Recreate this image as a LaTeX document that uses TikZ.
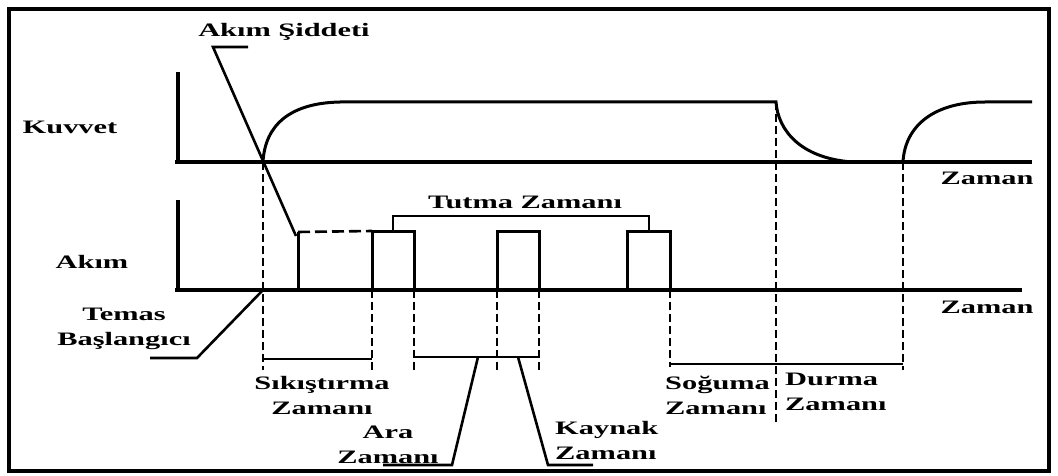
\documentclass[tikz,border=0pt]{standalone}
\usepackage{fontspec}
\setmainfont{Liberation Serif}[FakeStretch=1.6]
\begin{document}
\begin{tikzpicture}[x=1pt,y=-1pt,
  line join=miter,
  lbl/.style={font=\bfseries\fontsize{19}{25}\selectfont, inner sep=0pt},
  axis/.style={line width=3.2pt},
  sig/.style={line width=3pt},
  guide/.style={line width=2.8pt, dash pattern=on 8pt off 4pt},
  lead/.style={line width=2.6pt},
  span/.style={line width=2.8pt}]
\useasboundingbox (0,0) rectangle (1058,476);
\draw[line width=4pt] (9,9) rectangle (1049,471);

% axes
\coordinate (fy) at (178,72);
\coordinate (fo) at (178,162);
\coordinate (fs) at (175,162);
\coordinate (fe) at (1032,162);
\coordinate (cy) at (178,200);
\coordinate (co) at (178,290);
\coordinate (cs) at (175,290);
\coordinate (ce) at (1022,290);
\draw[axis] (fy) -- (fo);
\draw[axis] (fs) -- (fe);
\draw[axis] (cy) -- (co);
\draw[axis] (cs) -- (ce);

% force curve
\coordinate (f0) at (263,162);
\coordinate (f1) at (340,102);
\coordinate (f2) at (776,102);
\coordinate (f3) at (852,162);
\coordinate (f4) at (903,162);
\coordinate (f5) at (985,102);
\coordinate (f6) at (1032,102);
\draw[sig] (f0) .. controls (265,125) and (290,103) .. (f1) -- (f2)
  .. controls (778,130) and (800,158) .. (f3);
\draw[sig] (f4) .. controls (905,125) and (935,102) .. (f5) -- (f6);

% current pulses
\coordinate (s0) at (298,290);
\coordinate (s1) at (298,232);
\draw[sig] (s0) -- (s1);
\coordinate (p1a) at (372,290);
\coordinate (p1b) at (372,231);
\coordinate (p1c) at (414,231);
\coordinate (p1d) at (414,290);
\draw[sig] (p1a) -- (p1b) -- (p1c) -- (p1d);
\draw[line width=2.6pt, dash pattern=on 12pt off 5pt] (s1) -- (p1b);
\coordinate (p2a) at (497,290);
\coordinate (p2b) at (497,231);
\coordinate (p2c) at (539,231);
\coordinate (p2d) at (539,290);
\draw[sig] (p2a) -- (p2b) -- (p2c) -- (p2d);
\coordinate (p3a) at (627,290);
\coordinate (p3b) at (627,231);
\coordinate (p3c) at (670,231);
\coordinate (p3d) at (670,290);
\draw[sig] (p3a) -- (p3b) -- (p3c) -- (p3d);

% hold-time bracket
\coordinate (t0) at (393,231);
\coordinate (t1) at (393,216);
\coordinate (t2) at (649,216);
\coordinate (t3) at (649,231);
\draw[span] (t0) -- (t1) -- (t2) -- (t3);
\node[lbl] (tutma) at (525,202) {Tutma Zamanı};

% dashed time markers
\coordinate (g1) at (263,370);
\coordinate (g2) at (372,370);
\coordinate (g3) at (414,370);
\coordinate (g4) at (497,372);
\coordinate (g5) at (539,372);
\coordinate (g6) at (670,367);
\coordinate (g7) at (776,423);
\coordinate (g8) at (903,370);
\draw[guide] (f0) -- (g1);
\draw[guide] (p1a) -- (g2);
\draw[guide] (p1d) -- (g3);
\draw[guide] (p2a) -- (g4);
\draw[guide] (p2d) -- (g5);
\draw[guide] (p3d) -- (g6);
\draw[guide] (f2) -- (g7);
\draw[guide] (f4) -- (g8);

% interval spans
\coordinate (k1) at (263,359);
\coordinate (k2) at (372,359);
\draw[span] (k1) -- (k2);
\coordinate (k3) at (414,357);
\coordinate (k4) at (539,357);
\draw[span] (k3) -- (k4);
\coordinate (k5) at (670,364);
\coordinate (k6) at (903,364);
\draw[span] (k5) -- (k6);

% labels
\node[lbl] (kuvvet) at (70,127) {Kuvvet};
\node[lbl] (akim) at (92,262) {Akım};
\node[lbl] (zaman1) at (987,178) {Zaman};
\node[lbl] (zaman2) at (987,307) {Zaman};
\node[lbl] (siddet) at (284,32) {Akım Şiddeti};
\node[lbl, align=center] (temas) at (124,329) {Temas\\Başlangıcı};
\node[lbl, align=center] (sikis) at (322,395) {Sıkıştırma\\Zamanı};
\node[lbl, align=center] (ara) at (388,445) {Ara\\Zamanı};
\node[lbl, align=left, anchor=west] (kaynak) at (555,440) {Kaynak\\Zamanı};
\node[lbl, align=left, anchor=west] (soguma) at (665,395) {Soğuma\\Zamanı};
\node[lbl, align=left, anchor=west] (durma) at (785,392) {Durma\\Zamanı};

% leader lines
\coordinate (a0) at (248,47);
\coordinate (a1) at (213,47);
\coordinate (a2) at (296,236);
\draw[lead] (a0) -- (a1) -- (a2);
\coordinate (b0) at (263,290);
\coordinate (b1) at (197,358);
\coordinate (b2) at (150,358);
\draw[lead] (b0) -- (b1) -- (b2);
\coordinate (c0) at (478,357);
\coordinate (c1) at (452,465);
\coordinate (c2) at (383,465);
\draw[lead] (c0) -- (c1) -- (c2);
\coordinate (d0) at (518,357);
\coordinate (d1) at (548,465);
\coordinate (d2) at (593,465);
\draw[lead] (d0) -- (d1) -- (d2);
\end{tikzpicture}
\end{document}
